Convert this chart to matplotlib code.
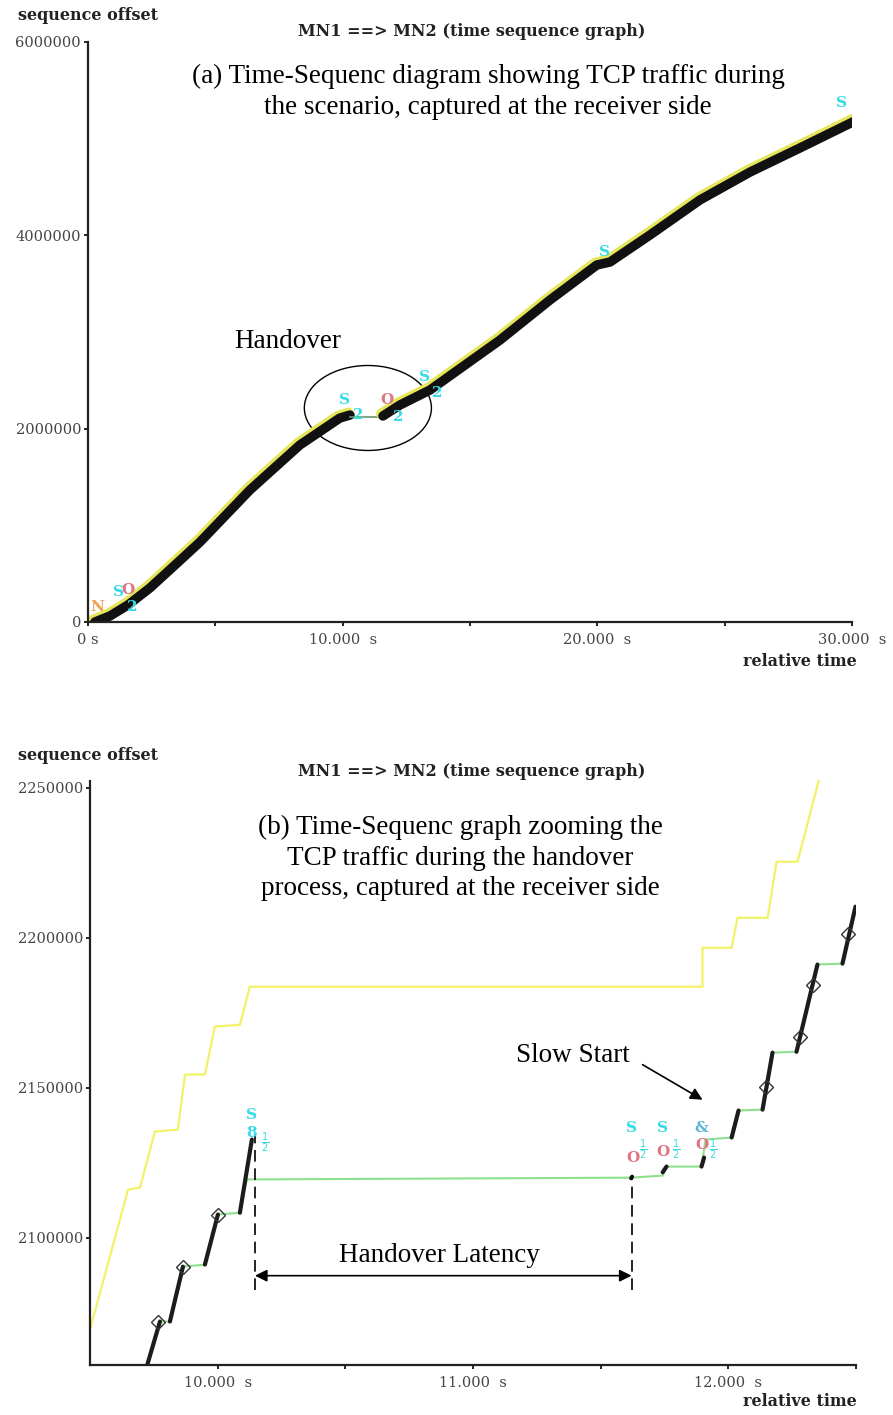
import matplotlib
matplotlib.use('Agg')
import matplotlib.pyplot as plt
import matplotlib.patheffects as pe
from matplotlib.patches import Ellipse

# ---- panel (a): whole scenario, seconds / bytes ----
a_t1 = [0.27, 0.86, 1.57, 2.43, 3.42, 4.40, 6.36, 8.32, 9.31, 9.89, 10.29]
a_s1 = [0, 62000, 176000, 352000, 590000, 828000, 1366000, 1831000, 2007000, 2110000, 2141000]
a_gap_t = [10.29, 11.58]
a_gap_s = [2120700, 2120700]
a_t2 = [11.58, 12.25, 13.43, 16.18, 18.14, 19.98, 20.5, 22.07, 24.03, 26.0, 27.95, 30.19]
a_s2 = [2131000, 2245000, 2400000, 2917000, 3331000, 3693000, 3724000, 4004000, 4366000, 4655000, 4903000, 5193000]
a_marks = [('N', 0.35, 155000, 'n'), ('S', 1.18, 310000, 'c'), ('O', 1.57, 331000, 'o'),
           ('2', 1.73, 155000, 'c'), ('S', 10.09, 2297000, 'c'), ('2', 10.6, 2141000, 'c'),
           ('O', 11.74, 2297000, 'o'), ('2', 12.17, 2121000, 'c'), ('S', 13.23, 2534000, 'c'),
           ('2', 13.7, 2369000, 'c'), ('S', 20.3, 3828000, 'c'), ('S', 29.6, 5369000, 'c')]

# ---- panel (b): zoom on the handover ----
b_bursts = [(9.719, 2056000, 9.774, 2072000), (9.813, 2072000, 9.864, 2090300),
            (9.950, 2091000, 10.001, 2107700), (10.087, 2108300, 10.134, 2132700),
            (11.619, 2119800, 11.623, 2120300), (11.743, 2121800, 11.758, 2123700),
            (11.895, 2123700, 11.905, 2126700), (12.013, 2133400, 12.040, 2142400),
            (12.134, 2142700, 12.173, 2161700), (12.267, 2162000, 12.349, 2191100),
            (12.447, 2191400, 12.498, 2210400)]
b_ack_t = [9.719, 9.774, 9.813, 9.864, 9.950, 10.001, 10.087, 10.114, 11.621, 11.743, 11.758,
           11.895, 11.911, 12.013, 12.040, 12.134, 12.173, 12.267, 12.349, 12.447, 12.498]
b_ack_s = [2056000, 2072000, 2072000, 2090300, 2091000, 2107700, 2108300, 2119400, 2120000,
           2120700, 2123700, 2123700, 2132700, 2133400, 2142400, 2142700, 2161700, 2162000,
           2191100, 2191400, 2210400]
b_win_t = [9.5, 9.649, 9.696, 9.754, 9.844, 9.872, 9.950, 9.989, 10.087, 10.126, 11.899, 11.899,
           12.013, 12.036, 12.154, 12.189, 12.271, 12.357]
b_win_s = [2069300, 2116000, 2116700, 2135400, 2136000, 2154400, 2154400, 2170400, 2171000,
           2183700, 2183700, 2196700, 2196700, 2206700, 2206700, 2225400, 2225400, 2253400]
b_dia_t = [9.766, 9.864, 10.001, 12.146, 12.279, 12.330, 12.467]
b_dia_s = [2072000, 2090300, 2107700, 2150400, 2167000, 2184400, 2201400]
FR = r'$\frac{1}{2}$'
b_marks = [('S', 10.134, 2141000, 'c'), ('8', 10.134, 2135000, 'c'), (FR, 10.185, 2131700, 'c'),
           ('S', 11.621, 2136700, 'c'), ('O', 11.625, 2126700, 'o'), (FR, 11.668, 2129400, 'c'),
           ('S', 11.743, 2136700, 'c'), ('O', 11.745, 2128700, 'o'), (FR, 11.797, 2129400, 'c'),
           ('&', 11.895, 2136700, 'b'), ('O', 11.895, 2131000, 'o'), (FR, 11.942, 2129400, 'c')]

mark_col = {'c': '#36dbe6', 'o': '#e07483', 'n': '#f0a050', 'b': '#5ab4d8'}
W, H = 893, 1415
serif = 'Liberation Serif'
gfont = 'DejaVu Serif'

fig = plt.figure(figsize=(W / 100, H / 100), dpi=100)


def style(ax):
    for s in ['top', 'right']:
        ax.spines[s].set_visible(False)
    for s in ['left', 'bottom']:
        ax.spines[s].set_linewidth(1.6)
        ax.spines[s].set_color('#222222')
    ax.tick_params(which='both', direction='out', length=3, width=1.4, color='#222222',
                   labelsize=10.5, labelcolor='#454545', labelfontfamily=gfont, pad=2)
    ax.tick_params(axis='x', pad=5)


# ---------------- panel (a) ----------------
ax1 = fig.add_axes([88 / W, 1 - 622 / H, (852 - 88) / W, (622 - 42) / H])
style(ax1)
ax1.set_xlim(0, 30)
ax1.set_ylim(0, 6000000)
ax1.set_xticks([0, 10, 20, 30])
ax1.set_xticklabels(['0 s', '10.000  s', '20.000  s', '30.000  s'])
ax1.set_xticks([5, 15, 25], minor=True)
ax1.set_yticks([0, 2000000, 4000000, 6000000])
ax1.set_yticklabels(['0', '2000000', '4000000', '6000000'])

fringe = [pe.Stroke(linewidth=7.5, foreground='#e6e65c', offset=(-1.2, 1.6)), pe.Normal()]
ax1.plot(a_t1, a_s1, color='#111111', lw=6.8, solid_capstyle='round', path_effects=fringe)
ax1.plot(a_gap_t, a_gap_s, color='#6a9a6a', lw=1.2)
ax1.plot(a_t2, a_s2, color='#111111', lw=6.8, solid_capstyle='round', path_effects=fringe)
for txt, t, s, k in a_marks:
    ax1.text(t, s, txt, color=mark_col[k], fontsize=11, fontweight='bold', family=gfont,
             ha='center', va='center')
ax1.add_patch(Ellipse((10.99, 2214000), 4.99, 879000, fill=False, ec='black', lw=1))

# ---------------- panel (b) ----------------
ax2 = fig.add_axes([90 / W, 1 - 1365 / H, (856 - 90) / W, (1365 - 780.5) / H])
style(ax2)
ax2.set_xlim(9.5, 12.5)
ax2.set_ylim(2057500, 2252500)
ax2.set_xticks([10, 11, 12])
ax2.set_xticklabels(['10.000  s', '11.000  s', '12.000  s'])
ax2.set_xticks([10.5, 11.5, 12.5], minor=True)
ax2.set_yticks([2100000, 2150000, 2200000, 2250000])
ax2.set_yticklabels(['2100000', '2150000', '2200000', '2250000'])

ax2.plot(b_win_t, b_win_s, color='#f2f266', lw=1.6)
ax2.plot(b_ack_t, b_ack_s, color='#8ee08e', lw=1.5)
for t0, s0, t1, s1 in b_bursts:
    ax2.plot([t0, t1], [s0, s1], color='#1c1c1c', lw=3, solid_capstyle='round')
ax2.plot(b_dia_t, b_dia_s, linestyle='none', marker='D', ms=7.5, mfc='none', mec='#333333',
         mew=1)
for txt, t, s, k in b_marks:
    ax2.text(t, s, txt, color=mark_col[k], fontsize=11 if txt != FR else 10, fontweight='bold',
             family=gfont, ha='center', va='center')

ax2.plot([10.146, 10.146], [2082600, 2134400], color='black', lw=1.2, dashes=(7, 4))
ax2.plot([11.621, 11.621], [2082600, 2121000], color='black', lw=1.2, dashes=(7, 4))
ax2.annotate('', xy=(10.146, 2087300), xytext=(11.621, 2087300),
             arrowprops=dict(arrowstyle='<|-|>', color='black', lw=1.2, mutation_scale=18,
                             shrinkA=0, shrinkB=0))
ax2.text(10.87, 2094000, 'Handover Latency', family=serif, fontsize=19.5, ha='center',
         va='center')
ax2.annotate('', xy=(11.899, 2146000), xytext=(11.664, 2157700),
             arrowprops=dict(arrowstyle='-|>', color='black', lw=1.2, mutation_scale=18,
                             shrinkA=0, shrinkB=0))

# ---------------- figure texts ----------------
for top in [0, 740]:
    fig.text(18 / W, 1 - (15 + top) / H, 'sequence offset', family=gfont, fontweight='bold',
             fontsize=11.5, color='#222222', ha='left', va='center')
    fig.text(472 / W, 1 - (32 + top) / H, 'MN1 ==> MN2 (time sequence graph)', family=gfont,
             fontweight='bold', fontsize=11.5, color='#222222', ha='center', va='center')
    fig.text(857 / W, 1 - (662 + top) / H, 'relative time', family=gfont, fontweight='bold',
             fontsize=11.5, color='#222222', ha='right', va='center')

fig.text(488 / W, 1 - 92 / H,
         '(a) Time-Sequenc diagram showing TCP traffic during\nthe scenario, captured at the receiver side',
         family=serif, fontsize=19.5, ha='center', va='center', linespacing=1.3, multialignment='center')
fig.text(288 / W, 1 - 341 / H, 'Handover', family=serif, fontsize=19.5, ha='center', va='center')
fig.text(460 / W, 1 - 858 / H,
         '(b) Time-Sequenc graph zooming the\nTCP traffic during the handover\nprocess, captured at the receiver side',
         family=serif, fontsize=19.5, ha='center', va='center', linespacing=1.3, multialignment='center')
fig.text(573 / W, 1 - 1055 / H, 'Slow Start', family=serif, fontsize=19.5, ha='center', va='center')

fig.savefig('out.png', dpi=100)
